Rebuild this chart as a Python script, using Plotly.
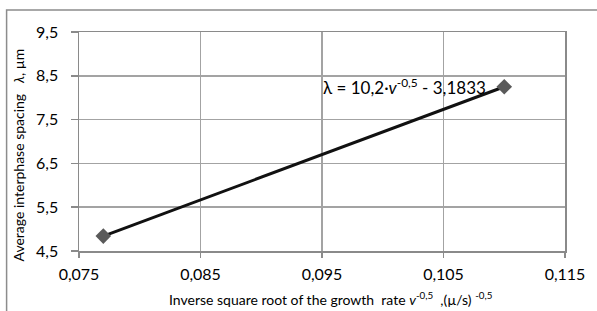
import plotly.graph_objects as go

x_vals = [0.077, 0.110]
y_vals = [4.84, 8.25]
x_ticks = [0.075, 0.085, 0.095, 0.105, 0.115]
x_tick_labels = ["0,075", "0,085", "0,095", "0,105", "0,115"]
y_ticks = [4.5, 5.5, 6.5, 7.5, 8.5, 9.5]
y_tick_labels = ["4,5", "5,5", "6,5", "7,5", "8,5", "9,5"]

FONT = "Lato, 'Open Sans', sans-serif"
GRID = "#a3a3a3"
AXIS = "#8a8a8a"

fig = go.Figure()
fig.add_trace(go.Scatter(
    x=x_vals, y=y_vals, mode="lines+markers",
    line=dict(color="#111111", width=3),
    marker=dict(symbol="diamond", size=12, color="#5a5a5a"),
    showlegend=False, hoverinfo="skip"))

fig.update_layout(
    width=597, height=311,
    margin=dict(l=79, r=28, t=32, b=60),
    paper_bgcolor="white", plot_bgcolor="white",
    font=dict(family=FONT, color="#000000"),
    xaxis=dict(range=[0.075, 0.115], tickvals=x_ticks, ticktext=x_tick_labels,
               showgrid=True, gridcolor=GRID, gridwidth=1.5,
               showline=True, linecolor=AXIS, linewidth=1.5, mirror=True,
               ticks="outside", ticklen=5, tickcolor=AXIS, tickwidth=1.5,
               tickfont=dict(size=16, family=FONT), ticklabelstandoff=3,
               zeroline=False, fixedrange=True),
    yaxis=dict(range=[4.5, 9.5], tickvals=y_ticks, ticktext=y_tick_labels,
               showgrid=True, gridcolor=GRID, gridwidth=1.5,
               showline=True, linecolor=AXIS, linewidth=1.5, mirror=True,
               ticks="outside", ticklen=7, tickcolor=AXIS, tickwidth=1.5,
               tickfont=dict(size=16, family=FONT), ticklabelstandoff=9,
               zeroline=False, fixedrange=True),
)

fig.add_annotation(xref="paper", yref="paper", x=(18 - 79) / 490, y=(251 - 155) / 219,
                   text="Average interphase spacing   <i>λ</i>, µm",
                   textangle=-90, showarrow=False, font=dict(size=14, family=FONT),
                   xanchor="center", yanchor="middle")
fig.add_annotation(xref="paper", yref="paper", x=(333 - 79) / 490, y=(251 - 298) / 219,
                   text="Inverse square root of the growth  rate <i>v</i><sup>-0,5</sup>  ,(µ/s) <sup>-0,5</sup>",
                   showarrow=False, font=dict(size=14, family=FONT),
                   xanchor="center", yanchor="middle")
fig.add_annotation(xref="x", yref="y", x=0.0949, y=8.25,
                   text="λ = 10,2·<i>v</i><sup>-0,5</sup> - 3,1833",
                   showarrow=False, font=dict(size=17, family=FONT),
                   xanchor="left", yanchor="middle")

fig.add_shape(type="rect", xref="paper", yref="paper",
              x0=(6 - 79) / 490, x1=1.3, y0=-0.6, y1=(251 - 10) / 219,
              line=dict(color="#8c8c8c", width=1.5), fillcolor="rgba(0,0,0,0)",
              layer="above")

fig.write_html("out.html", config={"displayModeBar": False, "staticPlot": True},
               post_script="document.body.style.margin='0px';")
